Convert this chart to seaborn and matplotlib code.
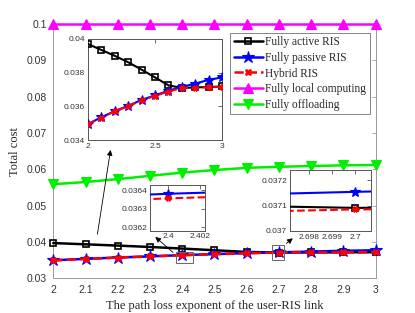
import numpy as np
import pandas as pd
import matplotlib
matplotlib.use("Agg")
import matplotlib.pyplot as plt
import seaborn as sns
from matplotlib.patches import Rectangle

# path loss exponent of the user-RIS link
x = [2.0, 2.1, 2.2, 2.3, 2.4, 2.5, 2.6, 2.7, 2.8, 2.9, 3.0]

# total cost per scheme
active = [0.0397, 0.03935, 0.0390, 0.03862, 0.03818, 0.03772, 0.03725, 0.037091, 0.03712, 0.03715, 0.03718]
passive = [0.03495, 0.03535, 0.03572, 0.03603, 0.036382, 0.03665, 0.03693, 0.037154, 0.03735, 0.03757, 0.03772]
hybrid = [0.03493, 0.03533, 0.0357, 0.03601, 0.036357, 0.03662, 0.03688, 0.037085, 0.03711, 0.03713, 0.03716]
local = [0.1, 0.1, 0.1, 0.1, 0.1, 0.1, 0.1, 0.1, 0.1, 0.1, 0.1]
offload = [0.0559, 0.0565, 0.0573, 0.0582, 0.0591, 0.0598, 0.0604, 0.0607, 0.0609, 0.0611, 0.0612]

labels = ["Fully active RIS", "Fully passive RIS", "Hybrid RIS",
          "Fully local computing", "Fully offloading"]

sns.set_style("white")
plt.rcParams["font.family"] = ["Liberation Sans", "DejaVu Sans"]

df = pd.DataFrame({"x": x, labels[0]: active, labels[1]: passive,
                   labels[2]: hybrid, labels[3]: local, labels[4]: offload})

# style of each series (colour, marker, size, line style, marker face)
styles = {
    labels[0]: dict(color="black", marker="s", ms=5, ls="-", mfc="none", mew=1.2),
    labels[1]: dict(color="blue", marker="*", ms=9, ls="-", mfc="blue", mew=0.8),
    labels[2]: dict(color="red", marker="X", ms=5, ls="--", mfc="red", mew=0.6),
    labels[3]: dict(color="magenta", marker="^", ms=6.5, ls="-", mfc="magenta", mew=0.8),
    labels[4]: dict(color="#00ee00", marker="v", ms=6.5, ls="-", mfc="#00ee00", mew=0.8),
}


def draw(ax, names, lw=1.8, scale=1.0):
    for name in names:
        st = styles[name]
        sns.lineplot(data=df, x="x", y=name, ax=ax, color=st["color"],
                     linestyle=st["ls"], linewidth=lw, marker=st["marker"],
                     markersize=st["ms"] * scale, markerfacecolor=st["mfc"],
                     markeredgecolor=st["color"], markeredgewidth=st["mew"],
                     label=name, legend=False, zorder=3)


def style_axes(ax, fs, col="#555555", pad=2):
    for sp in ax.spines.values():
        sp.set_color(col)
        sp.set_linewidth(0.7)
    ax.tick_params(direction="in", top=True, right=True, length=3,
                   width=0.6, color=col, labelsize=fs, labelcolor="#333333", pad=pad)
    ax.set_xlabel("")
    ax.set_ylabel("")
    ax.xaxis.set_major_formatter(plt.FuncFormatter(lambda v, p: "%g" % round(v, 6)))
    ax.yaxis.set_major_formatter(plt.FuncFormatter(lambda v, p: "%g" % round(v, 6)))


fig = plt.figure(figsize=(4.15, 3.13), dpi=100)
ax = fig.add_axes([0.1284, 0.1109, 0.7769, 0.8124])
draw(ax, labels)
ax.set_xlim(2, 3)
ax.set_ylim(0.03, 0.1)
ax.set_xticks([2.0, 2.1, 2.2, 2.3, 2.4, 2.5, 2.6, 2.7, 2.8, 2.9, 3.0])
ax.set_yticks([0.03, 0.04, 0.05, 0.06, 0.07, 0.08, 0.09, 0.1])
style_axes(ax, 7.5, col="#999999", pad=4.5)
for line in ax.lines:
    line.set_clip_on(False)
ax.set_xlabel("The path loss exponent of the user-RIS link",
              family="Liberation Serif", fontsize=9, labelpad=4)
ax.set_ylabel("Total cost", family="Liberation Serif", fontsize=9, labelpad=4)

handles = [plt.Line2D([], [], color=styles[n]["color"], ls=styles[n]["ls"], lw=1.8,
                      marker=styles[n]["marker"], ms=styles[n]["ms"],
                      mfc=styles[n]["mfc"], mec=styles[n]["color"],
                      mew=styles[n]["mew"]) for n in labels]
leg = fig.legend(handles, labels, loc="upper right", bbox_to_anchor=(0.897, 0.903),
                 prop={"family": "Liberation Serif", "size": 8.3}, frameon=True,
                 fancybox=False, handlelength=2.5, labelspacing=0.32,
                 borderpad=0.3, handletextpad=0.25, borderaxespad=0.2,
                 markerfirst=True)
leg.get_frame().set_edgecolor("#666666")
leg.get_frame().set_linewidth(0.7)

# zoom boxes and arrows on the main axes
ax.add_patch(Rectangle((2.38, 0.0342), 0.052, 0.003, fill=False, ec="#666666", lw=0.7, zorder=4))
ax.add_patch(Rectangle((2.679, 0.0351), 0.037, 0.0041, fill=False, ec="#666666", lw=0.7, zorder=4))
arrow = dict(arrowstyle="-|>", color="black", lw=0.6, mutation_scale=8)
ax.annotate("", xy=(2.179, 0.0661), xytext=(2.1355, 0.0414), arrowprops=arrow)
ax.annotate("", xy=(2.310, 0.0419), xytext=(2.378, 0.0366), arrowprops=arrow)
ax.annotate("", xy=(2.7495, 0.0415), xytext=(2.716, 0.0391), arrowprops=arrow)

# inset 1: overview of the three RIS schemes
in1 = fig.add_axes([0.2120, 0.5527, 0.3229, 0.3227])
draw(in1, labels[:3], lw=1.5, scale=0.85)
in1.set_xlim(2, 3)
in1.set_ylim(0.034, 0.04)
in1.set_xticks([2, 2.5, 3])
in1.set_yticks([0.034, 0.036, 0.038, 0.04])
style_axes(in1, 6)

# inset 2: around x = 2.4
in2 = fig.add_axes([0.3614, 0.2629, 0.1325, 0.146])
draw(in2, labels[1:3], lw=1.5, scale=0.85)
in2.set_xlim(2.39885, 2.40232)
in2.set_ylim(0.03618, 0.03643)
in2.set_xticks([2.4, 2.402])
in2.set_yticks([0.0362, 0.0363, 0.0364])
style_axes(in2, 6)

# inset 3: around x = 2.7
in3 = fig.add_axes([0.6988, 0.262, 0.1952, 0.1949])
draw(in3, labels[:3], lw=1.5, scale=0.85)
in3.set_xlim(2.69717, 2.7007)
in3.set_ylim(0.0370, 0.03724)
in3.set_xticks([2.698, 2.699, 2.7])
in3.set_yticks([0.037, 0.0371, 0.0372])
style_axes(in3, 6)

fig.savefig("out.png", dpi=100)
